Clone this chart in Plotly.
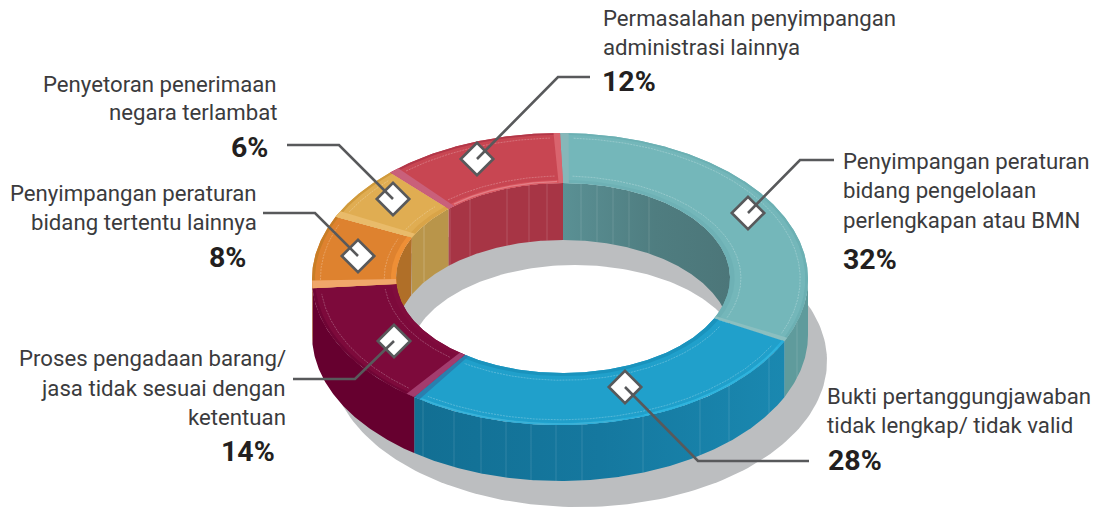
import numpy as np
import plotly.graph_objects as go

# ---------- data ----------
SEGMENT_NAMES = ["Penyimpangan peraturan bidang pengelolaan perlengkapan atau BMN",
                 "Bukti pertanggungjawaban tidak lengkap/ tidak valid",
                 "Proses pengadaan barang/ jasa tidak sesuai dengan ketentuan",
                 "Penyimpangan peraturan bidang tertentu lainnya",
                 "Penyetoran penerimaan negara terlambat",
                 "Permasalahan penyimpangan administrasi lainnya"]
SEGMENT_VALUES = [32, 28, 14, 8, 6, 12]

# ---------- styles ----------
FACE = ["#74b7ba", "#20a0cb", "#7d0a3b", "#de822f", "#e0ad52", "#c84652"]
RIM_OUT = ["#6cb0b3", "#27aedb", "#700535", "#c87d26", "#d09a3c", "#b23748"]
RIM_IN = ["#6eb1b5", "#1a93bd", "#800c3d", "#ee8f36", "#d9a448", "#d9565f"]
SIDE = ["#5f9b9c", "#1680a8", "#66002f", "#b5732a", "#b9954a", "#a73545"]
INNER_WALL = ["#528386", "#1680a8", "#66002f", "#b06f28", "#b9954a", "#a73545"]
START_BAND = ["#86b7b9", None, "#a33c6e", "#f0a76a", "#e9bb6a", "#c9607a"]
START_WIDTH = [2.0, 0, 2.2, 3.0, 2.5, 2.5]
END_BAND = ["#8bbfc0", "#2a7fae", None, None, None, "#d9646e"]
SHADOW = "#bcbec0"
LINE = "#58595b"
TEXT = "#3b3b3d"
BOLD = "#231f20"
FONT = "Roboto"

OUT = dict(cx=560, cy=279, rx=248, ry=146)
INN = dict(cx=563, cy=278, rx=167, ry=95)
DEPTH = 56
SH_OUT = dict(cx=579, cy=361, rx=248, ry=146)
SH_INN = dict(cx=575, cy=360, rx=167, ry=95)


def ell(f):
    return {k: INN[k] + (OUT[k] - INN[k]) * f for k in OUT}


def arc(e, a, b, n=None, dy=0):
    n = n or max(int(abs(b - a)) * 2, 3)
    t = np.radians(np.linspace(a, b, n))
    return e["cx"] + e["rx"] * np.sin(t), e["cy"] - e["ry"] * np.cos(t) + dy


def poly(x, y, color, grad=None):
    kw = dict(x=list(x), y=list(y), mode="lines", fill="toself", line=dict(width=0),
              hoverinfo="skip", showlegend=False)
    if grad:
        kw["fillgradient"] = dict(type="horizontal", colorscale=grad)
    else:
        kw["fillcolor"] = color
    fig.add_trace(go.Scatter(**kw))


def band(f0, f1, a, b, color, grad=None):
    x0, y0 = arc(ell(f0), a, b)
    x1, y1 = arc(ell(f1), b, a)
    poly(np.r_[x0, x1], np.r_[y0, y1], color, grad)


def wall(e, a, b, color, grad=None, dy=DEPTH):
    x0, y0 = arc(e, a, b)
    x1, y1 = arc(e, b, a, dy=dy)
    poly(np.r_[x0, x1], np.r_[y0, y1], color, grad)


def stroke(x, y, color, width, dash="solid"):
    fig.add_trace(go.Scatter(x=list(x), y=list(y), mode="lines", hoverinfo="skip", showlegend=False,
                             line=dict(color=color, width=width, dash=dash)))


fig = go.Figure()

# shadow
x, y = arc(SH_OUT, 0, 360, 240)
poly(x, y, SHADOW)
x, y = arc(SH_INN, 0, 360, 240)
poly(x, y, "#ffffff")

total = sum(SEGMENT_VALUES)
edges = np.cumsum([0] + SEGMENT_VALUES) / total * 360

# inner wall (back half of the hole)
for i, (a, b) in enumerate(zip(edges[:-1], edges[1:])):
    spans = []
    if a < 90:
        spans.append((a, min(b, 90)))
    if b > 270:
        spans.append((max(a, 270), b))
    for s in spans:
        grad = None
        if i == 0:
            grad = [[0, "#5a9094"], [0.55, "#4f7d80"], [1, "#4c7679"]]
        wall(INN, s[0], s[1], INNER_WALL[i], grad, dy=57)

# thin panel lines, read as screen x along each wall
for xs, col in (([450, 470, 507, 529, 547], "rgba(255,255,255,0.2)"),
                ([424], "rgba(255,255,255,0.28)"),
                ([581, 597, 613, 629, 649], "rgba(255,255,255,0.16)")):
    for px in xs:
        yy = INN["cy"] - INN["ry"] * np.sqrt(1 - ((px - INN["cx"]) / INN["rx"]) ** 2)
        stroke([px, px], [yy, yy + 57], col, 0.8)

# outer wall (front half)
for i, (a, b) in enumerate(zip(edges[:-1], edges[1:])):
    lo, hi = max(a, 90), min(b, 270)
    if lo < hi:
        grad = None
        if i == 1:
            grad = [[0, "#126f93"], [0.5, "#15789f"], [1, "#1a88b0"]]
        wall(OUT, lo, hi, SIDE[i], grad)

for px in [423, 454, 481, 506, 531, 556, 582, 643, 700, 729, 769, 797]:
    yy = OUT["cy"] + OUT["ry"] * np.sqrt(1 - ((px - OUT["cx"]) / OUT["rx"]) ** 2)
    stroke([px, px], [yy, yy + DEPTH], "rgba(255,255,255,0.16)", 0.8)

# top faces
for i, (a, b) in enumerate(zip(edges[:-1], edges[1:])):
    band(0, 1, a, b, FACE[i])
    band(0.0, 0.06, a, b, RIM_IN[i])
    band(0.965, 1.0, a, b, RIM_OUT[i])
    # end bevels
    if START_BAND[i]:
        band(0, 1, a, a + START_WIDTH[i], START_BAND[i])
    if END_BAND[i]:
        band(0, 1, b - 1.5, b, END_BAND[i])
    # inset pale lines
    for f in (0.14, 0.9):
        xl, yl = arc(ell(f), a + 3.2, b - 2.5)
        stroke(xl, yl, "rgba(255,255,255,0.3)", 0.8, "2px,1px")

# highlights on the rims
xl, yl = arc(ell(0.98), 118, 160)
stroke(xl, yl, "#2fb4dd", 1.8)
xl, yl = arc(ell(0.98), 165, 214)
stroke(xl, yl, "#3fb2d6", 1.2)
xl, yl = arc(ell(0.03), 320, 358)
stroke(xl, yl, "#e37f87", 1.4)

# leaders: screen coordinates of callouts
LEADERS = [
    ([748, 800, 834], [213, 160, 160]),
    ([625, 698, 809], [387, 461, 461]),
    ([394, 355, 293], [341, 379, 379]),
    ([358, 315, 263], [256, 213, 213]),
    ([393, 339, 287], [199, 145, 145]),
    ([477, 558, 590], [159, 77, 77]),
]
fig.add_trace(go.Scatter(x=[l[0][0] for l in LEADERS], y=[l[1][0] for l in LEADERS], mode="markers",
                         hoverinfo="skip", showlegend=False,
                         marker=dict(symbol="diamond", size=25, color="#ffffff", line=dict(color=LINE, width=2.6))))
for lx, ly in LEADERS:
    stroke(lx, ly, LINE, 2.6)

# text
LABELS = [
    ("Permasalahan penyimpangan", 603, 18, "left", False),
    ("administrasi lainnya", 603, 47, "left", False),
    ("12%", 602, 81, "left", True),
    ("Penyimpangan peraturan", 843, 161, "left", False),
    ("bidang pengelolaan", 843, 190, "left", False),
    ("perlengkapan atau BMN", 843, 220, "left", False),
    ("32%", 843, 259, "left", True),
    ("Bukti pertanggungjawaban", 827, 396, "left", False),
    ("tidak lengkap/ tidak valid", 827, 425, "left", False),
    ("28%", 828, 460, "left", True),
    ("Proses pengadaan barang/", 286, 358, "right", False),
    ("jasa tidak sesuai dengan", 286, 388, "right", False),
    ("ketentuan", 286, 417, "right", False),
    ("14%", 275, 451, "right", True),
    ("Penyimpangan peraturan", 257, 193, "right", False),
    ("bidang tertentu lainnya", 257, 222, "right", False),
    ("8%", 246, 257, "right", True),
    ("Penyetoran penerimaan", 277, 84, "right", False),
    ("negara terlambat", 277, 112, "right", False),
    ("6%", 268, 147, "right", True),
]
for t, x, y, al, bold in LABELS:
    fig.add_annotation(x=x, y=y, text=f"<b>{t}</b>" if bold else t, showarrow=False, xanchor=al, yanchor="middle",
                       borderpad=0, borderwidth=0,
                       font=dict(family=FONT, size=28.5 if bold else 22.2, color=BOLD if bold else TEXT))

fig.update_layout(width=1107, height=508, margin=dict(l=0, r=0, t=0, b=0),
                  paper_bgcolor="#ffffff", plot_bgcolor="#ffffff", showlegend=False,
                  xaxis=dict(range=[0, 1107], visible=False, fixedrange=True),
                  yaxis=dict(range=[508, 0], visible=False, fixedrange=True))
fig.write_html("out.html", config={"displayModeBar": False},
               post_script="document.body.style.margin='0';")
